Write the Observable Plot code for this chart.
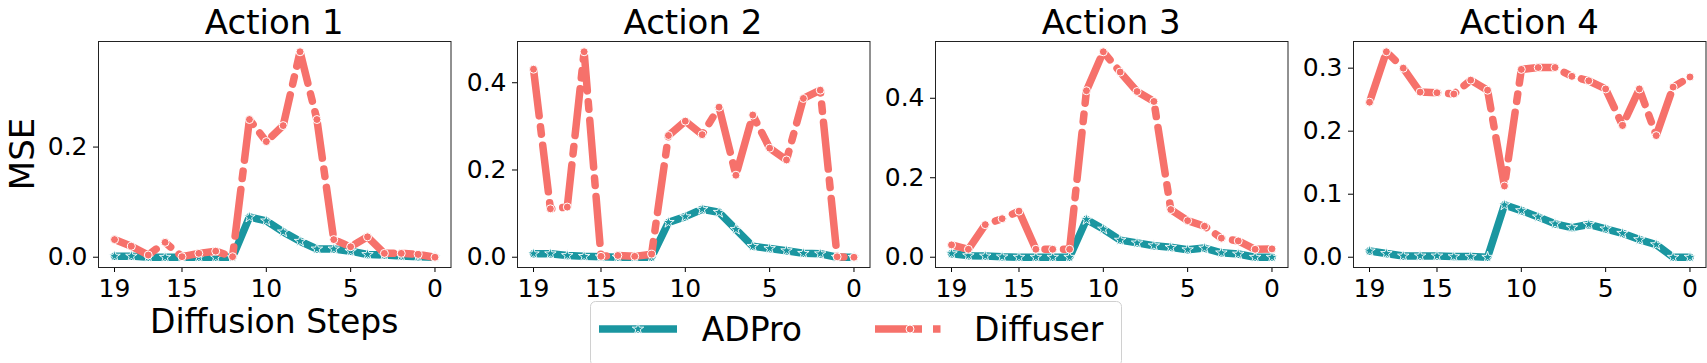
<!DOCTYPE html>
<html><head><meta charset="utf-8">
<script src="https://cdn.jsdelivr.net/npm/d3@7"></script>
<script src="https://cdn.jsdelivr.net/npm/@observablehq/plot@0.6"></script>
<style>
body{margin:0;background:#fff;font-family:"DejaVu Sans",sans-serif;}
#wrap{position:relative;width:1707px;height:363px;overflow:hidden;background:#fff;}
#wrap > svg{position:absolute;}
</style></head><body><div id="wrap"></div>
<script>
const steps = [19,18,17,16,15,14,13,12,11,10,9,8,7,6,5,4,3,2,1,0];
const titles = ["Action 1","Action 2","Action 3","Action 4"];
const seriesNames = ["ADPro","Diffuser"];
const xTicks = [19,15,10,5,0];

const adpro1    = [0.002,0.002,0.000,0.000,0.000,0.000,0.000,0.000,0.073,0.066,0.046,0.029,0.015,0.015,0.011,0.005,0.004,0.002,0.001,0.000];
const diffuser1 = [0.032,0.020,0.004,0.027,0.001,0.007,0.011,0.001,0.250,0.210,0.239,0.373,0.250,0.032,0.019,0.037,0.007,0.007,0.005,0.000];
const yTicks1 = [0,0.2];

const adpro2    = [0.008,0.008,0.004,0.002,0.001,0.000,0.000,0.000,0.080,0.093,0.110,0.103,0.064,0.025,0.020,0.015,0.009,0.008,0.000,0.000];
const diffuser2 = [0.431,0.111,0.115,0.471,0.002,0.004,0.002,0.007,0.279,0.312,0.281,0.344,0.188,0.326,0.250,0.223,0.364,0.383,0.001,0.000];
const yTicks2 = [0,0.2,0.4];

const adpro3    = [0.009,0.004,0.003,0.001,0.000,0.000,0.000,0.000,0.095,0.071,0.043,0.036,0.029,0.025,0.019,0.023,0.011,0.008,0.000,0.000];
const diffuser3 = [0.031,0.020,0.082,0.097,0.116,0.020,0.020,0.020,0.419,0.517,0.466,0.417,0.392,0.120,0.092,0.078,0.048,0.041,0.020,0.021];
const yTicks3 = [0,0.2,0.4];

const adpro4    = [0.010,0.006,0.002,0.002,0.002,0.001,0.001,0.000,0.083,0.074,0.064,0.053,0.047,0.052,0.045,0.038,0.028,0.020,0.000,0.000];
const diffuser4 = [0.246,0.326,0.300,0.262,0.261,0.259,0.281,0.265,0.113,0.298,0.301,0.301,0.287,0.280,0.267,0.209,0.267,0.193,0.270,0.286];
const yTicks4 = [0,0.1,0.2,0.3];

const panels = [
  {title:titles[0], adpro:adpro1, diff:diffuser1, yTicks:yTicks1},
  {title:titles[1], adpro:adpro2, diff:diffuser2, yTicks:yTicks2},
  {title:titles[2], adpro:adpro3, diff:diffuser3, yTicks:yTicks3},
  {title:titles[3], adpro:adpro4, diff:diffuser4, yTicks:yTicks4}
];

const colors = {ADPro:"#1a96a0", Diffuser:"#f6716b"};
const LW = 7.5;
const dash = "47,11,7.5,11";
const frameLefts = [98,516.7,935,1353.3];
const frameW = 352.5, frameTop = 41, frameH = 226;
const mL = 80, mR = 2, mB = 50;
const tickFont = 25;
const wrap = document.getElementById("wrap");

panels.forEach((p,i)=>{
  const rows = steps.map((s,j)=>({step:s, adpro:p.adpro[j], diff:p.diff[j]}));
  const all = p.adpro.concat(p.diff);
  const lo = Math.min(...all), hi = Math.max(...all), pad = (hi-lo)*0.05;
  const chart = Plot.plot({
    width: mL+frameW+mR, height: frameTop+frameH+mB,
    marginLeft:mL, marginRight:mR, marginTop:frameTop, marginBottom:mB,
    style:{fontFamily:"DejaVu Sans", color:"#000", background:"transparent", overflow:"visible"},
    x:{domain:[19.95,-0.95], label:null},
    y:{domain:[lo-pad, hi+pad], label:null},
    marks:[
      Plot.axisX({ticks:xTicks, tickSize:5, tickPadding:7, label:null, tickFormat:d=>String(d)}),
      Plot.axisY({ticks:p.yTicks, tickSize:5, tickPadding:6, label:null, tickFormat:d3.format(".1f")}),
      Plot.line(rows,{x:"step",y:"adpro",stroke:colors.ADPro,strokeWidth:LW,strokeLinejoin:"round"}),
      Plot.dot(rows,{x:"step",y:"adpro",symbol:"star",r:3.6,fill:colors.ADPro,stroke:"white",strokeWidth:0.9}),
      Plot.line(rows,{x:"step",y:"diff",stroke:colors.Diffuser,strokeWidth:LW,strokeDasharray:dash,strokeLinejoin:"round"}),
      Plot.dot(rows,{x:"step",y:"diff",r:4,fill:colors.Diffuser,stroke:"white",strokeWidth:1}),
      Plot.frame({stroke:"#222", strokeWidth:1})
    ]
  });
  // enforce tick label typography directly on the generated text
  d3.select(chart).selectAll("text")
    .attr("font-size", tickFont).style("font-size", tickFont+"px")
    .style("font-family", "DejaVu Sans").attr("fill","#000");
  d3.select(chart).selectAll("g").filter(function(){ return this.getAttribute("font-size"); })
    .attr("font-size", tickFont);
  chart.style.position = "absolute";
  chart.style.left = (frameLefts[i]-mL)+"px";
  chart.style.top = "0px";
  wrap.appendChild(chart);
});

// overlay text: titles, axis labels, legend
const ov = d3.select(wrap).append("svg")
  .attr("width",1707).attr("height",363)
  .style("left","0px").style("top","0px")
  .style("font-family","DejaVu Sans");
panels.forEach((p,i)=>{
  ov.append("text").attr("x",frameLefts[i]+frameW/2).attr("y",33.5)
    .attr("text-anchor","middle").attr("font-size",34).text(p.title);
});
ov.append("text").attr("transform","translate(34,154) rotate(-90)")
  .attr("text-anchor","middle").attr("font-size",34).text("MSE");
ov.append("text").attr("x",frameLefts[0]+frameW/2).attr("y",333)
  .attr("text-anchor","middle").attr("font-size",33).text("Diffusion Steps");

// legend
const lg = ov.append("g");
lg.append("rect").attr("x",590.5).attr("y",301.5).attr("width",531).attr("height",64)
  .attr("rx",5).attr("fill","white").attr("fill-opacity",0.8).attr("stroke","#d0d0d0");
lg.append("line").attr("x1",599).attr("x2",677).attr("y1",329).attr("y2",329)
  .attr("stroke",colors.ADPro).attr("stroke-width",LW);
lg.append("path").attr("d",d3.symbol(d3.symbolStar, 3.6*3.6*Math.PI)()).attr("transform","translate(638,329)")
  .attr("fill",colors.ADPro).attr("stroke","white").attr("stroke-width",0.9);
lg.append("text").attr("x",701.7).attr("y",341).attr("font-size",33).text(seriesNames[0]);
lg.append("line").attr("x1",875).attr("x2",942).attr("y1",329).attr("y2",329)
  .attr("stroke",colors.Diffuser).attr("stroke-width",LW).attr("stroke-dasharray",dash);
lg.append("circle").attr("cx",910).attr("cy",329).attr("r",4)
  .attr("fill",colors.Diffuser).attr("stroke","white").attr("stroke-width",1);
lg.append("text").attr("x",974).attr("y",341).attr("font-size",33).text(seriesNames[1]);
</script></body></html>
